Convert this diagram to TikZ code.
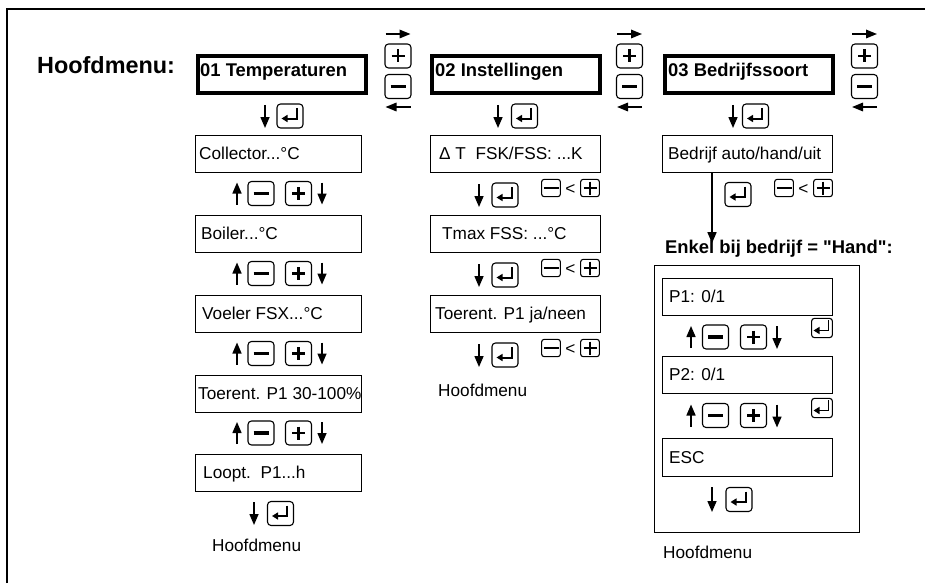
\documentclass[tikz,border=0pt]{standalone}
\usepackage{fontspec}
\setmainfont{Liberation Sans}
\newfontfamily\nolig{Liberation Sans}[Ligatures=TeXOff]
\usetikzlibrary{arrows.meta}
\begin{document}
\begin{tikzpicture}[x=1pt,y=-1pt,
  every node/.style={inner sep=0pt},
  lbl/.style={font=\fontsize{17.2}{20}\selectfont, text height=12.4pt, text depth=0pt, anchor=west},
  bld/.style={font=\fontsize{18.4}{21}\selectfont\bfseries, text height=13.2pt, text depth=0pt, anchor=west},
  menubox/.style={draw, line width=1.1pt, minimum height=37pt, anchor=north west},
  headbox/.style={draw, line width=3.6pt, minimum width=168pt, minimum height=37pt, anchor=north west},
  hand/.style={draw, line width=1.2pt, anchor=north west},
  keybox/.style={draw, line width=1.1pt, rounded corners=#1*3.5pt, minimum width=#1*26pt, minimum height=#1*24pt},
  keybox/.default=1,
  keyplus/.style={keybox=#1, path picture={\draw[sharp corners, line width=#1*2.7pt, shift={(path picture bounding box.center)}, scale=#1] (-6.5,0) -- (6.5,0) (0,-6.5) -- (0,6.5);}},
  keyplus/.default=1,
  keyminus/.style={keybox=#1, path picture={\draw[sharp corners, line width=#1*3.2pt, shift={(path picture bounding box.center)}, scale=#1] (-7.5,0) -- (7.5,0);}},
  keyminus/.default=1,
  keyenter/.style={keybox=#1, path picture={\draw[sharp corners, line width=#1*2pt, -{Triangle[length=6pt,width=7pt]}, shift={(path picture bounding box.center)}, scale=#1] (6.5,-8) -- (6.5,2.5) -- (-8.5,2.5);}},
  keyenter/.default=1,
  arr/.style={line width=1.5pt, -{Triangle[length=11pt,width=9pt]}},
  harr/.style={line width=1.7pt, -{Triangle[length=11pt,width=8.5pt]}}
]
\useasboundingbox (0,0) rectangle (925,583);
% frame
\draw[line width=1.5pt] (7,583) -- (7,9) -- (925,9);

\node[font=\fontsize{23.4}{26}\selectfont\bfseries, text height=16.8pt, text depth=0pt, anchor=west] (hm) at (37,65) {Hoofdmenu:};

% header boxes
\node[headbox] (h1) at (196,54) {};
\node[bld] (h1t) at (200,70) {01 Temperaturen};
\node[headbox] (h2) at (430,54) {};
\node[bld] (h2t) at (435,70) {02 Instellingen};
\node[headbox] (h3) at (663,54) {};
\node[bld] (h3t) at (668,70) {03 Bedrijfssoort};

% +/- groups between headers
\foreach \gx/\gn in {398/g1, 629.5/g2, 864.5/g3}{
  \coordinate (\gn ra) at (\gx-12.5,34);
  \coordinate (\gn rb) at (\gx+12.5,34);
  \draw[harr] (\gn ra) -- (\gn rb);
  \node[keyplus] (\gn p) at (\gx,56) {};
  \node[keyminus] (\gn m) at (\gx,86.5) {};
  \coordinate (\gn la) at (\gx+12.5,107);
  \coordinate (\gn lb) at (\gx-12.5,107);
  \draw[harr] (\gn la) -- (\gn lb);
}

% header enter rows
\foreach \ax/\ex/\n in {265/290/e1, 498/524.5/e2, 733/755.5/e3}{
  \coordinate (\n a) at (\ax,105);
  \coordinate (\n b) at (\ax,128);
  \draw[arr] (\n a) -- (\n b);
  \node[keyenter] (\n k) at (\ex,116) {};
}

% column 1
\node[menubox, minimum width=166pt] (c1) at (195,135) {};
\node[lbl] (c1t) at (199,153.5) {Collector...°C};
\node[menubox, minimum width=166pt] (c2) at (195,215) {};
\node[lbl] (c2t) at (201,233.5) {Boiler...°C};
\node[menubox, minimum width=166pt] (c3) at (195,295) {};
\node[lbl] (c3t) at (202,313.5) {Voeler FSX...°C};
\node[menubox, minimum width=166pt] (c4) at (195,375) {};
\node[lbl] (c4t) at (198,393.5) {Toerent. P1 30-100\%};
\node[menubox, minimum width=166pt] (c5) at (195,454) {};
\node[lbl] (c5t) at (203,472.5) {Loopt.\ \ P1...h};

\foreach \cy/\n in {193.5/r1, 273.5/r2, 353.5/r3, 433/r4}{
  \coordinate (\n ua) at (237,\cy+11);
  \coordinate (\n ub) at (237,\cy-11);
  \draw[arr] (\n ua) -- (\n ub);
  \node[keyminus] (\n m) at (261,\cy) {};
  \node[keyplus] (\n p) at (298.5,\cy) {};
  \coordinate (\n da) at (322,\cy-11);
  \coordinate (\n db) at (322,\cy+11);
  \draw[arr] (\n da) -- (\n db);
}
\coordinate (b1a) at (254,502);
\coordinate (b1b) at (254,525);
\draw[arr] (b1a) -- (b1b);
\node[keyenter] (b1k) at (280.5,513.5) {};
\node[lbl] (b1t) at (212,545) {Hoofdmenu};

% column 2
\node[menubox, minimum width=170pt] (d1) at (430,135) {};
\node[lbl] (d1t) at (439,153.5) {Δ T\ \ FSK/FSS: ...K};
\node[menubox, minimum width=170pt] (d2) at (430,215) {};
\node[lbl] (d2t) at (442,233.5) {Tmax FSS: ...°C};
\node[menubox, minimum width=170pt] (d3) at (430,295) {};
\node[lbl] (d3t) at (435,313.5) {Toerent. P1 ja/neen};

\foreach \cy/\n in {195/s1, 275/s2, 355/s3}{
  \coordinate (\n a) at (479,\cy-11);
  \coordinate (\n b) at (479,\cy+12);
  \draw[arr] (\n a) -- (\n b);
  \node[keyenter] (\n k) at (505,\cy) {};
  \node[keyminus=0.72] (\n m) at (551,\cy-7) {};
  \node[lbl, anchor=center] (\n lt) at (570.5,\cy-7) {<};
  \node[keyplus=0.72] (\n p) at (590,\cy-7) {};
}
\node[lbl] (b2t) at (438,390) {Hoofdmenu};

% column 3
\node[menubox, minimum width=170pt] (f1) at (662,135) {};
\node[lbl] (f1t) at (668,153.5) {Bedrijf auto/hand/uit};
\node[keyenter] (f1k) at (738,194.5) {};
\node[keyminus=0.72] (f1m) at (784,188) {};
\node[lbl, anchor=center] (f1lt) at (803.5,188) {<};
\node[keyplus=0.72] (f1p) at (823,188) {};

\node[bld, font=\fontsize{18.4}{21}\selectfont\nolig\bfseries] (enk) at (665,247) {Enkel bij bedrijf = "Hand":};
\draw[arr] ([xshift=50pt]f1.south west) -- ([xshift=50pt,yshift=-3pt]f1.south west |- enk.north);

\node[hand, minimum width=205pt, minimum height=267pt] (hb) at (654,265) {};
\node[menubox, minimum width=170pt] (p1) at (662,278) {};
\node[lbl] (p1t) at (669,296.5) {P1: 0/1};
\node[menubox, minimum width=170pt] (p2) at (662,356) {};
\node[lbl] (p2t) at (669,374.5) {P2: 0/1};
\node[menubox, minimum width=170pt, minimum height=38pt] (p3) at (662,438) {};
\node[lbl] (p3t) at (669,457) {ESC};

\foreach \cy/\ey/\n in {337/328/q1, 415.5/408/q2}{
  \coordinate (\n ua) at (691,\cy+11);
  \coordinate (\n ub) at (691,\cy-11);
  \draw[arr] (\n ua) -- (\n ub);
  \node[keyminus] (\n m) at (715.5,\cy) {};
  \node[keyplus] (\n p) at (753.5,\cy) {};
  \coordinate (\n da) at (777,\cy-11);
  \coordinate (\n db) at (777,\cy+12);
  \draw[arr] (\n da) -- (\n db);
  \node[keyenter=0.8] (\n k) at (822,\ey) {};
}
\coordinate (b3a) at (712,487);
\coordinate (b3b) at (712,512);
\draw[arr] (b3a) -- (b3b);
\node[keyenter] (b3k) at (739,499.5) {};
\node[lbl] (b3t) at (663,552) {Hoofdmenu};
\end{tikzpicture}
\end{document}
